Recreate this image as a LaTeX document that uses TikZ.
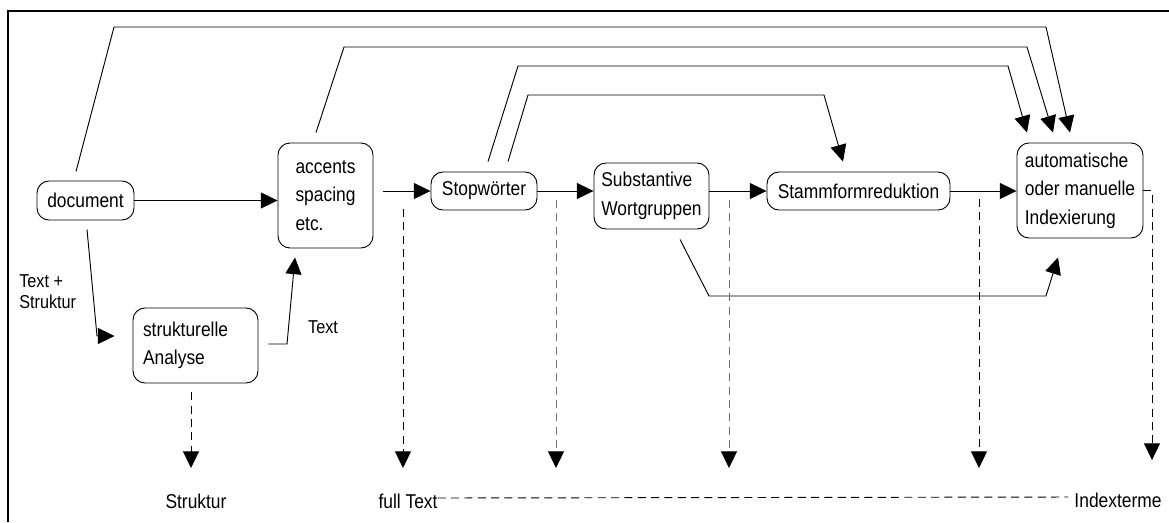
\documentclass[tikz,border=0pt]{standalone}
\usepackage{fontspec}
\setmainfont{Liberation Sans}[FakeStretch=0.87]
\usetikzlibrary{arrows.meta,calc}
\begin{document}
\begin{tikzpicture}[x=0.75pt,y=-0.75pt,
  box/.style={draw,rounded corners=9pt,line width=0.7pt,inner sep=0pt,align=left,font=\fontsize{15}{21.4}\selectfont},
  lbl/.style={inner sep=0pt,align=left,font=\fontsize{15}{15.75}\selectfont},
  conn/.style={line width=0.7pt,-{Triangle[length=12.5pt,width=12pt,color=black,fill=black]}},
  dconn/.style={conn,dash pattern=on 6pt off 4pt},
  gconn/.style={dconn,draw=black!55},
]
\useasboundingbox (0,0) rectangle (1169,522);
\draw[line width=2pt] (8,522) -- (8,11) -- (1169,11);

% nodes
\node[box,minimum width=72.75pt,minimum height=29.25pt] (doc) at (85.5,200.5) {document};
\node[box,minimum width=71.25pt,minimum height=78.75pt] (acc) at (325.5,195.5) {accents\\spacing\\etc.};
\node[box,minimum width=93.75pt,minimum height=56.25pt,text width=78.75pt,inner xsep=7.5pt] (struk) at (195.5,345.5) {strukturelle\\Analyse};
\node[box,minimum width=79.5pt,minimum height=28.5pt] (stop) at (484,191) {Stopwörter};
\node[box,minimum width=86.25pt,minimum height=49.5pt] (subst) at (651.5,196) {Substantive\\Wortgruppen};
\node[box,minimum width=137.25pt,minimum height=28.5pt] (stamm) at (858.5,191) {Stammformreduktion};
\node[box,minimum width=94.5pt,minimum height=71.25pt] (auto) at (1080,190.5) {automatische\\oder manuelle\\Indexierung};

% labels
\node[lbl,anchor=west,font=\fontsize{14}{15.75}\selectfont] (ts) at (19,292) {Text +\\Struktur};
\node[lbl,font=\fontsize{14}{15.75}\selectfont] (tx) at (323,327) {Text};
\node[lbl] (sk) at (196,501) {Struktur};
\node[lbl] (ft) at (408,501) {full Text};
\node[lbl] (ix) at (1118,500) {Indexterme};

% coordinates for free ends
\coordinate (a1) at (114,27);   \coordinate (a2) at (1046,27);
\coordinate (b1) at (344,47);   \coordinate (b2) at (1027,47);
\coordinate (c1) at (518,66);   \coordinate (c2) at (1008,66);
\coordinate (d1) at (528,95);   \coordinate (d2) at (824,95);
\coordinate (i1) at (97,336);
\coordinate (j1) at (287,344);
\coordinate (k1) at (709,296);  \coordinate (k2) at (1046,296);
\coordinate (lT) at (191,468);
\coordinate (mS) at (403,209);  \coordinate (mT) at (403,468);
\coordinate (nS) at (556,200);  \coordinate (nT) at (556,468);
\coordinate (oS) at (729,200);  \coordinate (oT) at (729,468);
\coordinate (pS) at (979,199);  \coordinate (pT) at (979,468);
\coordinate (q1) at (1152,190.5); \coordinate (qT) at (1152,460);

% solid connectors
\draw[conn] ($(doc.north)+(-9.5,-9)$) -- (a1) -- (a2) -- ($(auto.north)+(-10,-10)$);
\draw[conn] ($(acc.north)+(-9.5,-10)$) -- (b1) -- (b2) -- ($(auto.north)+(-27,-10)$);
\draw[conn] ($(stop.north)+(4,-10)$) -- (c1) -- (c2) -- ($(auto.north)+(-53,-10)$);
\draw[conn] ($(stop.north)+(24,-10)$) -- (d1) -- (d2) -- ($(stamm.north)+(-15.5,-10)$);
\draw[conn] (doc.east) -- (doc.east -| acc.west);
\draw[conn] ($(acc.east |- stop.west)+(10,0)$) -- (stop.west);
\draw[conn] (stop.east) -- (stop.east -| subst.west);
\draw[conn] (subst.east |- stamm.west) -- (stamm.west);
\draw[conn] (stamm.east) -- (stamm.east -| auto.west);
\draw[conn] ($(doc.south)+(1.5,9)$) -- (i1) -- ($(struk.west)+(-18,-9.5)$);
\draw[conn] ($(struk.east)+(10,-1.5)$) -- (j1) -- ($(acc.south)+(-30.5,9)$);
\draw[conn] ($(subst.south)+(28.5,10)$) -- (k1) -- (k2) -- ($(auto.south)+(-22,19)$);

% dashed connectors
\draw[dconn] ($(struk.south)+(-4.5,9)$) -- (lT);
\draw[dconn] (mS) -- (mT);
\draw[gconn] (nS) -- (nT);
\draw[gconn] (oS) -- (oT);
\draw[dconn] (pS) -- (pT);
\draw[dconn] (auto.east) -- (q1) -- (qT);
\draw[line width=0.7pt,dash pattern=on 6pt off 4pt] ($(ft.east)+(0,-3)$) -- ($(ix.west)+(-6,-3)$);
\end{tikzpicture}
\end{document}
